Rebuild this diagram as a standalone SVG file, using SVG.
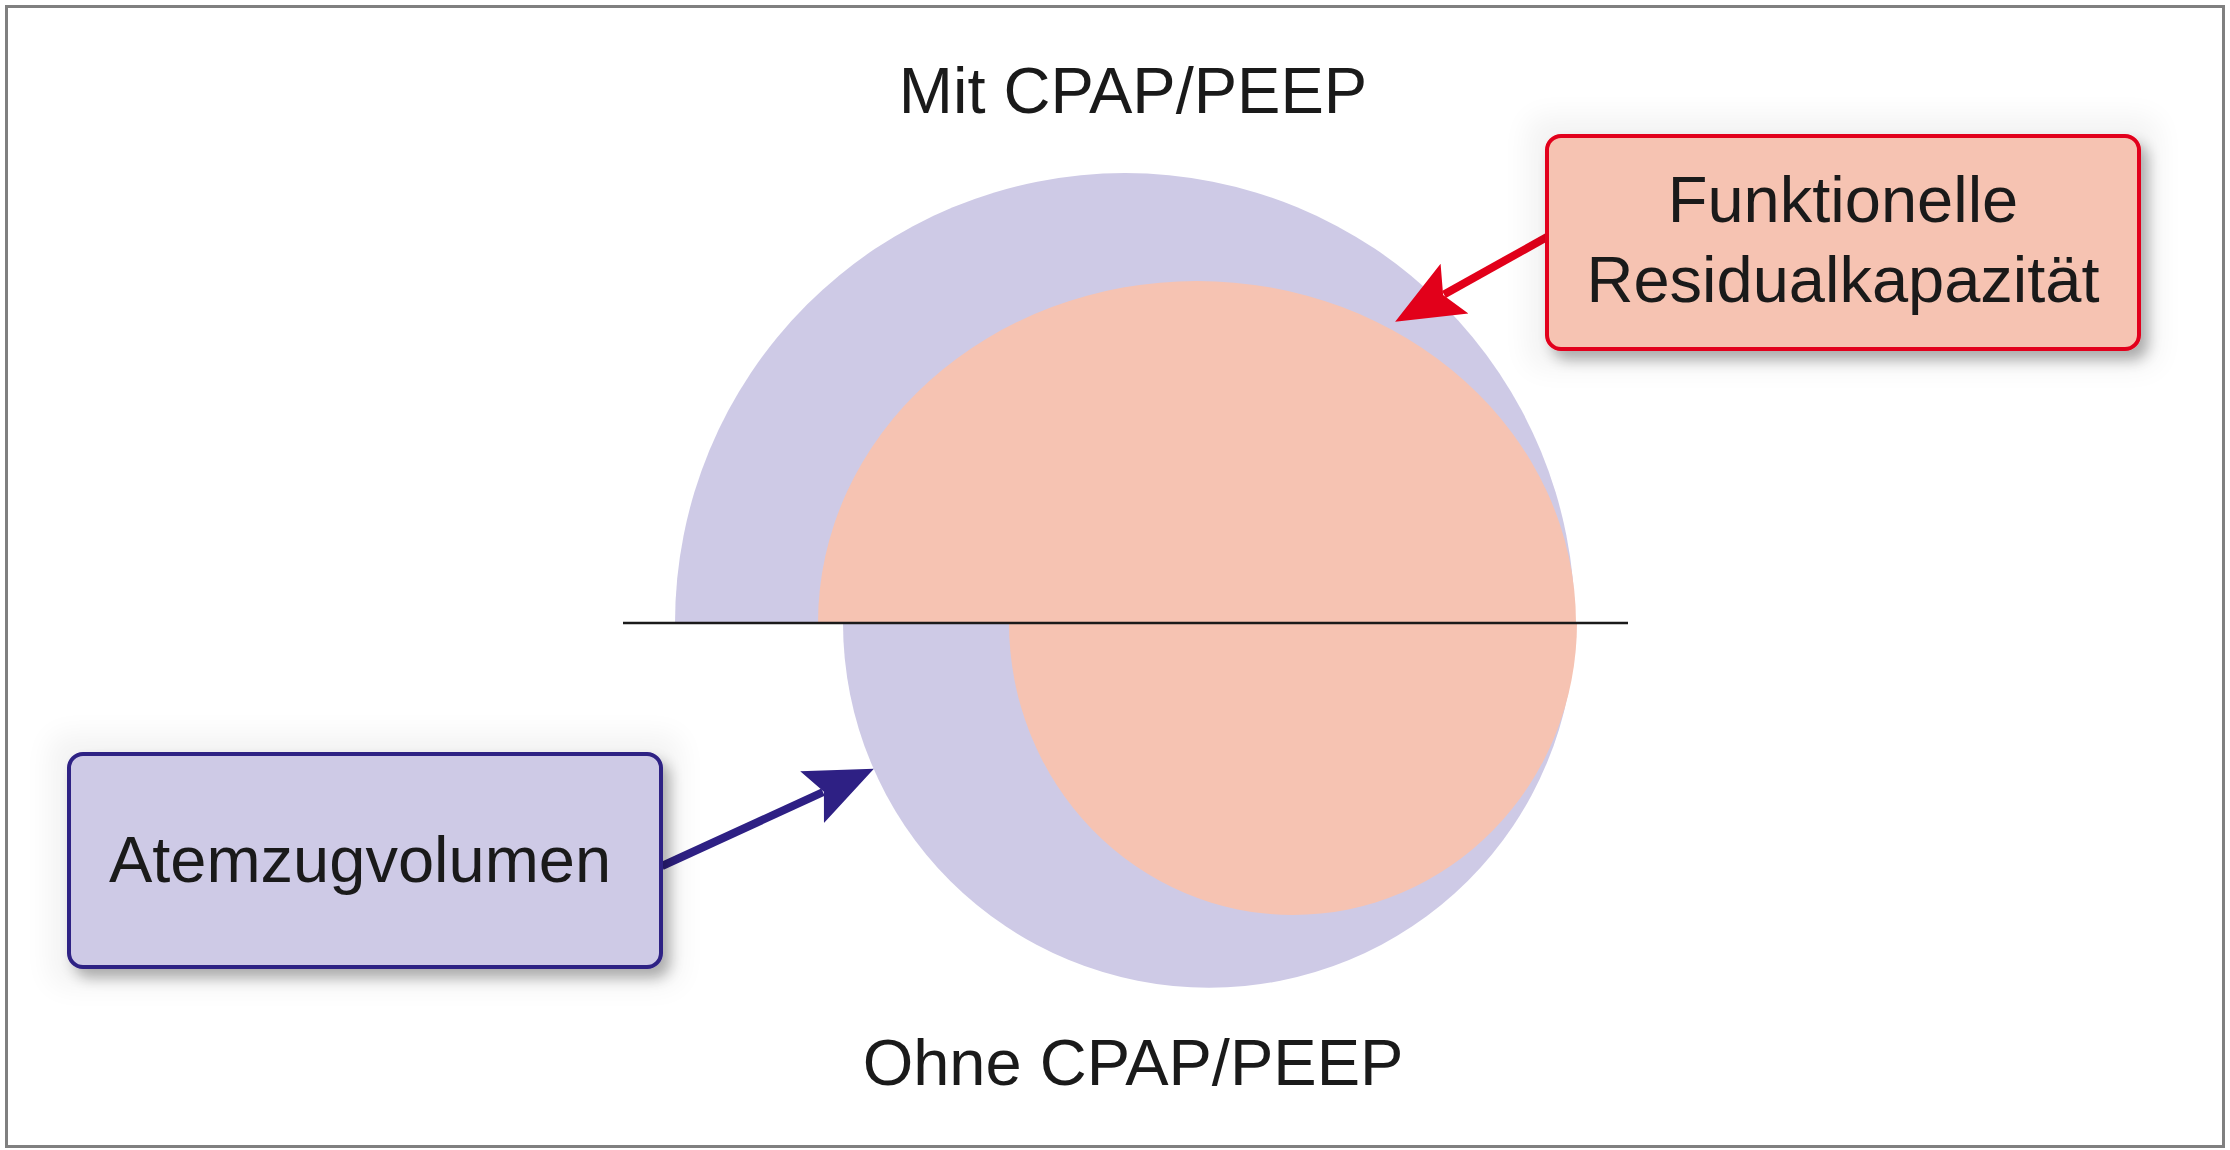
<svg xmlns="http://www.w3.org/2000/svg" width="2230" height="1150" viewBox="0 0 2230 1150">
  <style>
    .lbl { font-family: "Liberation Sans", Arial, sans-serif; font-size: 65px; fill: #1a1a1a; text-anchor: middle; }
    .lav { fill: #cecae6; }
    .sal { fill: #f6c3b2; }
    .box { stroke-width: 4; }
    .red { stroke: #e2001a; }
    .navy { stroke: #2e2084; }
  </style>
  <defs>
    <filter id="shadow" x="-20%" y="-30%" width="145%" height="170%">
      <feMorphology in="SourceAlpha" operator="dilate" radius="18" result="dil"/>
      <feGaussianBlur in="dil" stdDeviation="14" result="glowBlur"/>
      <feComponentTransfer in="glowBlur" result="glow"><feFuncA type="linear" slope="0.05"/></feComponentTransfer>
      <feGaussianBlur in="SourceAlpha" stdDeviation="7" result="b"/>
      <feOffset in="b" dx="7" dy="9" result="ob"/>
      <feComponentTransfer in="ob" result="sh"><feFuncA type="linear" slope="0.3"/></feComponentTransfer>
      <feMerge><feMergeNode in="glow"/><feMergeNode in="sh"/><feMergeNode in="SourceGraphic"/></feMerge>
    </filter>
    <marker id="headRed" viewBox="0 -30 70 60" markerWidth="70" markerHeight="60" refX="12" refY="0" markerUnits="userSpaceOnUse" orient="auto">
      <path d="M0,-28.5 L68,0 L0,28.5 L13,0 Z" fill="#e2001a"/>
    </marker>
    <marker id="headNavy" viewBox="0 -30 70 60" markerWidth="70" markerHeight="60" refX="12" refY="0" markerUnits="userSpaceOnUse" orient="auto">
      <path d="M0,-28.5 L68,0 L0,28.5 L13,0 Z" fill="#2e2084"/>
    </marker>
  </defs>

  <rect id="frame" x="6.5" y="6.5" width="2217" height="1140" fill="#ffffff" stroke="#808080" stroke-width="3"/>

  <g id="mit-cpap">
    <path class="lav" d="M675,623 A450,450 0 0 1 1575,623 Z"/>
    <path class="sal" d="M818,623 A379,342 0 0 1 1576,623 Z"/>
  </g>
  <g id="ohne-cpap">
    <path class="lav" d="M843,623 A366,365 0 0 0 1575,623 Z"/>
    <path class="sal" d="M1009,623 A284,292 0 0 0 1577,623 Z"/>
  </g>
  <line id="divider" x1="623" y1="623" x2="1628" y2="623" stroke="#1a1a1a" stroke-width="2.5"/>

  <text id="title-mit" class="lbl" x="1133" y="113">Mit CPAP/PEEP</text>
  <text id="title-ohne" class="lbl" x="1133" y="1085">Ohne CPAP/PEEP</text>

  <g id="connectors">
    <line x1="1547" y1="237" x2="1444" y2="294.5" class="red" stroke-width="8" marker-end="url(#headRed)"/>
    <line x1="662" y1="866" x2="823" y2="792.2" class="navy" stroke-width="8" marker-end="url(#headNavy)"/>
  </g>

  <g id="frc-box">
    <rect x="1547" y="136" width="592" height="213" rx="14" fill="#f6c3b2" class="box red" filter="url(#shadow)"/>
    <text class="lbl" x="1843" y="222">Funktionelle</text>
    <text class="lbl" x="1843" y="302">Residualkapazität</text>
  </g>

  <g id="atemzug-box">
    <rect x="69" y="754" width="592" height="213" rx="14" fill="#cecae6" class="box navy" filter="url(#shadow)"/>
    <text class="lbl" x="360" y="882">Atemzugvolumen</text>
  </g>
</svg>
